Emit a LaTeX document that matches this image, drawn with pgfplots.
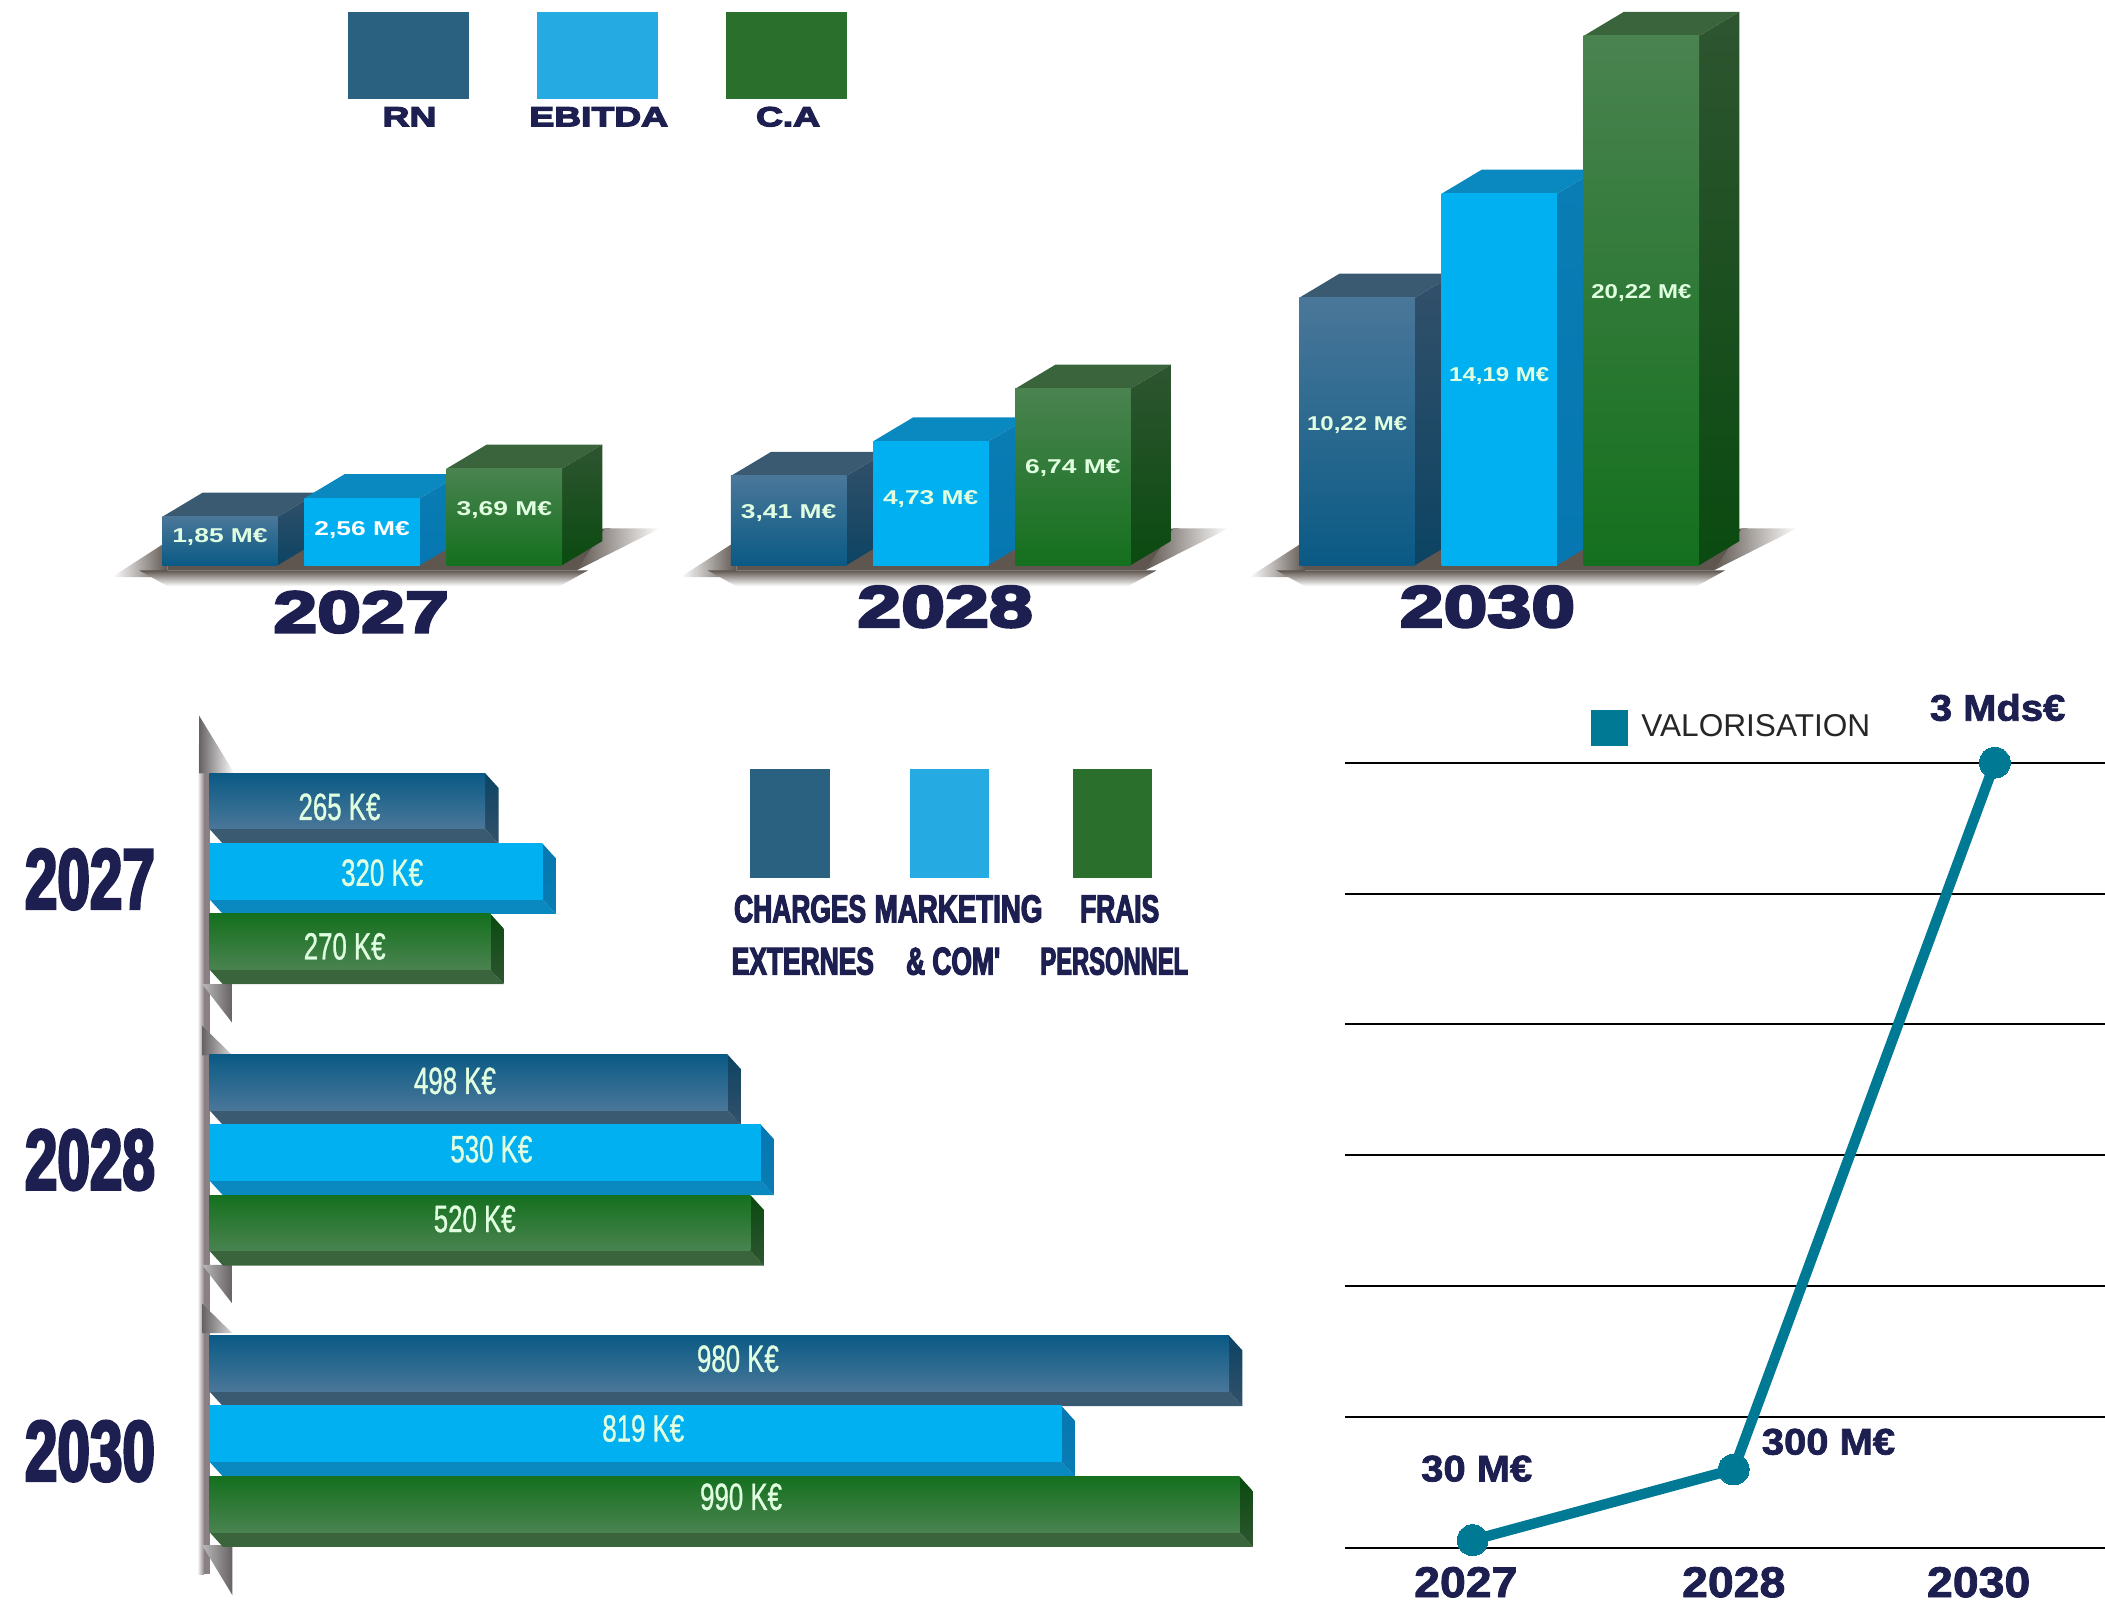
\documentclass[border=0pt]{standalone}
\usepackage{fontspec}
\usepackage{pgfplots}
\pgfplotsset{compat=1.18}
\setmainfont{Liberation Sans}
\newfontfamily\widefont[FakeStretch=1.36,FakeBold=5]{Liberation Sans}
\newfontfamily\narrowfont[FakeStretch=0.68,FakeBold=3]{Liberation Sans}
\newfontfamily\labelnarrow[FakeStretch=0.68,FakeBold=0.8]{Liberation Sans}
\newfontfamily\valfont[FakeStretch=1.2]{Liberation Sans}
\newfontfamily\linefont[FakeStretch=1.08,FakeBold=2]{Liberation Sans}

\definecolor{navy}{HTML}{1C1F4F}
\definecolor{teal}{HTML}{007A94}
\definecolor{shadow}{HTML}{5F5650}
\definecolor{wall}{HTML}{8A8084}
\definecolor{wedge}{HTML}{666264}
% swatches
\definecolor{swRN}{HTML}{2A6080}
\definecolor{swEB}{HTML}{25AAE2}
\definecolor{swCA}{HTML}{2A702C}
% faces of the bars
\definecolor{RNcap}{HTML}{3A5A72}
\definecolor{RNsidea}{HTML}{33506A}
\definecolor{RNsideb}{HTML}{0C4463}
\definecolor{RNtop}{HTML}{4A7799}
\definecolor{RNmid}{HTML}{1A6590}
\definecolor{RNbot}{HTML}{0A5A85}
\definecolor{EBcap}{HTML}{0A88C0}
\definecolor{EBsidea}{HTML}{0A7DB5}
\definecolor{EBsideb}{HTML}{0677B0}
\definecolor{EBtop}{HTML}{00B0F0}
\definecolor{EBmid}{HTML}{00B0F0}
\definecolor{EBbot}{HTML}{00B0F0}
\definecolor{CAcap}{HTML}{3A653C}
\definecolor{CAsidea}{HTML}{2E5530}
\definecolor{CAsideb}{HTML}{0A4A10}
\definecolor{CAtop}{HTML}{4A8350}
\definecolor{CAmid}{HTML}{17721F}
\definecolor{CAbot}{HTML}{14701E}

% column with top and side face: x, value, series, label y, label
\newcommand{\colbar}[5]{%
  \pgfmathsetmacro\xa{#1-0.1015}\pgfmathsetmacro\xb{#1+0.1015}%
  \pgfmathsetmacro\xc{#1+0.1723}\pgfmathsetmacro\xd{#1-0.0307}%
  \pgfmathsetmacro\vt{#2+0.92}%
  \addplot[draw=none,fill=#3cap] coordinates {(\xa,#2) (\xd,\vt) (\xc,\vt) (\xb,#2)} -- cycle;
  \addplot[draw=none,shade,top color=#3sidea,bottom color=#3sideb] coordinates {(\xb,#2) (\xc,\vt) (\xc,0.92) (\xb,0)} -- cycle;
  \addplot[ybar,bar shift=0pt,bar width=0.203,draw=none,shade,top color=#3top,middle color=#3mid,bottom color=#3bot] coordinates {(#1,#2)};
  \node[yshift=-1.2pt,text=white!88!green,font=\valfont\fontsize{10}{10}\selectfont\bfseries] at (axis cs:#1,#4) {#5};
}
% floor shadow under one group
\newcommand{\floorshadow}[1]{%
  \pgfmathsetmacro\sa{#1-0.44}\pgfmathsetmacro\sb{#1-0.342}\pgfmathsetmacro\sc{#1+0.427}%
  \pgfmathsetmacro\se{#1+0.524}\pgfmathsetmacro\sf{#1+0.377}\pgfmathsetmacro\sg{#1+0.437}%
  \pgfmathsetmacro\sh{#1-0.392}\pgfmathsetmacro\si{#1+0.397}\pgfmathsetmacro\sj{#1+0.347}%
  \addplot[draw=none,shade,left color=white,right color=shadow] coordinates {(\sa,-0.45) (\sb,0.92) (\sb,-0.45)} -- cycle;
  \addplot[draw=none,fill=shadow] coordinates {(\sb,-0.2) (\sb,0.92) (\sg,1.41) (\sf,-0.2)} -- cycle;
  \addplot[draw=none,shade,left color=shadow,right color=white] coordinates {(\sf,-0.2) (\sc,1.41) (\se,1.41)} -- cycle;
  \addplot[draw=none,shade,top color=shadow,bottom color=white] coordinates {(\sh,-0.2) (\si,-0.2) (\sj,-0.8) (\sb,-0.8)} -- cycle;
}
% horizontal bar with bottom and end face: y, value, series, label x, label y, label
\newcommand{\rowbar}[6]{%
  \pgfmathsetmacro\ya{#1+0.099}\pgfmathsetmacro\yb{#1-0.099}%
  \pgfmathsetmacro\yc{#1+0.0465}\pgfmathsetmacro\yd{#1-0.1515}%
  \pgfmathsetmacro\vr{#2+12.9}%
  \addplot[draw=none,fill=#3cap] coordinates {(0,\yb) (12.9,\yd) (\vr,\yd) (#2,\yb)} -- cycle;
  \addplot[draw=none,shade,top color=#3sideb,bottom color=#3sidea] coordinates {(#2,\ya) (\vr,\yc) (\vr,\yd) (#2,\yb)} -- cycle;
  \addplot[xbar,bar shift=0pt,bar width=0.198,draw=none,shade,top color=#3bot,middle color=#3mid,bottom color=#3top] coordinates {(#2,#1)};
  \node[text=white!88!green,font=\labelnarrow\fontsize{19}{19}\selectfont] at (axis cs:#4,#5) {#6};
}

\begin{document}
\begin{tikzpicture}
\path[use as bounding box] (0,0) rectangle (1052.5pt,801.5pt);

% top: RN, EBITDA, C.A (M euros)
\begin{axis}[
  at={(58*0.67125pt,714.5*0.67125pt)},anchor=south west,
  x=284.28pt,y=13.09pt,
  xmin=-0.5,xmax=2.9,ymin=-3,ymax=22,
  hide axis,clip=false]
\floorshadow{0}
\floorshadow{1}
\floorshadow{2}
\colbar{-0.25}{1.85}{RN}{1.18}{\scalebox{1.1}[1]{1,85 M€}}
\colbar{0}{2.56}{EB}{1.44}{\scalebox{1.1}[1]{\color{white}2,56 M€}}
\colbar{0.25}{3.69}{CA}{2.2}{\scalebox{1.1}[1]{3,69 M€}}
\colbar{0.75}{3.41}{RN}{2.1}{\scalebox{1.1}[1]{3,41 M€}}
\colbar{1}{4.73}{EB}{2.62}{\scalebox{1.1}[1]{4,73 M€}}
\colbar{1.25}{6.74}{CA}{3.79}{\scalebox{1.1}[1]{6,74 M€}}
\colbar{1.75}{10.22}{RN}{5.44}{10,22 M€}
\colbar{2}{14.19}{EB}{7.33}{14,19 M€}
\colbar{2.25}{20.22}{CA}{10.5}{20,22 M€}
\end{axis}

% bottom left: charges (k euros)
\begin{axis}[
  at={(147*0.67125pt,0.3*0.67125pt)},anchor=south west,
  x=0.5202pt,y=140.63pt,
  xmin=-11.6,xmax=1030,ymin=-0.6,ymax=2.6,
  hide axis,clip=false]
\addplot[draw=none,shade,left color=white,right color=wall] coordinates {(-11.6,2.45) (-5,2.45) (-5,-0.5) (-11.6,-0.5)} -- cycle;
\addplot[draw=none,fill=wall] coordinates {(-5.2,2.45) (0.5,2.45) (0.5,-0.5) (-5.2,-0.5)} -- cycle;
\addplot[draw=none,shade,left color=wedge,right color=white] coordinates {(-10,2.554) (24,2.348) (-10,2.348)} -- cycle;
\addplot[draw=none,shade,left color=wedge!45!white,right color=wedge] coordinates {(-7,1.599) (22,1.599) (22,1.461)} -- cycle;
\addplot[draw=none,shade,left color=wedge,right color=wedge!25!white] coordinates {(-7,1.451) (22,1.346) (-7,1.346)} -- cycle;
\addplot[draw=none,shade,left color=wedge!45!white,right color=wedge] coordinates {(-7,0.601) (22,0.601) (22,0.463)} -- cycle;
\addplot[draw=none,shade,left color=wedge,right color=wedge!25!white] coordinates {(-7,0.463) (22,0.358) (-7,0.358)} -- cycle;
\addplot[draw=none,shade,left color=wedge!45!white,right color=wedge] coordinates {(-7,-0.396) (22,-0.396) (22,-0.573)} -- cycle;
\rowbar{2.25}{265}{RN}{125}{2.229}{265 K€}
\rowbar{2}{320}{EB}{166}{1.995}{320 K€}
\rowbar{1.75}{270}{CA}{130}{1.733}{270 K€}
\rowbar{1.25}{498}{RN}{236}{1.255}{498 K€}
\rowbar{1}{530}{EB}{271}{1.012}{530 K€}
\rowbar{0.75}{520}{CA}{255}{0.764}{520 K€}
\rowbar{0.25}{980}{RN}{508}{0.267}{980 K€}
\rowbar{0}{819}{EB}{417}{0.019}{819 K€}
\rowbar{-0.25}{990}{CA}{511}{-0.224}{990 K€}
\end{axis}

% bottom right: valorisation (M euros)
\begin{axis}[
  at={(1002*0.67125pt,41*0.67125pt)},anchor=south west,
  x=130.56pt,y=0.13089pt,
  xmin=-0.488,xmax=2.4216,ymin=0,ymax=3000,
  clip=false,
  axis line style={draw=none},
  tick style={draw=none},
  ymajorgrids,grid style={black,line width=1pt},
  ytick={0,500,1000,1500,2000,2500,3000},yticklabels={},
  xtick={-0.026,1,1.938},xticklabels={2027,2028,2030},
  xticklabel style={text=navy,font=\linefont\fontsize{21.5}{21.5}\selectfont\bfseries,yshift=-6pt},
  legend style={at={(0.3235,1.044)},anchor=west,draw=none,fill=none,inner sep=0pt,
    font=\fontsize{15.8}{15.8}\selectfont,text=black!85},
  legend image code/.code={\path[draw=none] (0pt,0pt) -- (20.4pt,0pt);\fill[teal,draw=none] (-2.6pt,-9.6pt) rectangle (15.5pt,8.5pt);}]
\addplot[teal,line width=5.2pt,mark=*,mark size=7.7pt,mark options={fill=teal,draw=none,line width=0pt}] coordinates {(0,30) (1,300) (2,3000)};
\addlegendentry{VALORISATION}
\end{axis}

% texts and swatches, page coordinates measured from the top left
\begin{scope}[shift={(0,801.5pt)},x=0.67125pt,y=-0.67125pt]
\fill[swRN] (259,9) rectangle (349,74);
\fill[swEB] (400,9) rectangle (490,74);
\fill[swCA] (541,9) rectangle (631,74);
\begin{scope}[every node/.style={text=navy,font=\widefont\fontsize{13.7}{13.7}\selectfont\bfseries}]
\node at (305,87) {RN};
\node at (446,87) {EBITDA};
\node at (587,87) {C.A};
\end{scope}
\begin{scope}[every node/.style={text=navy,font=\widefont\fontsize{29}{29}\selectfont\bfseries}]
\node at (269,456) {2027};
\node at (704,452) {2028};
\node at (1108,452) {2030};
\end{scope}
\begin{scope}[every node/.style={text=navy,font=\narrowfont\fontsize{43}{43}\selectfont\bfseries}]
\node at (67,655) {2027};
\node at (67,864) {2028};
\node at (67,1081) {2030};
\end{scope}
\fill[swRN] (559,573) rectangle (618,654);
\fill[swEB] (678,573) rectangle (737,654);
\fill[swCA] (799,573) rectangle (858,654);
\begin{scope}[every node/.style={text=navy,font=\narrowfont\fontsize{19.4}{19.4}\selectfont\bfseries}]
\node at (596,677) {CHARGES};
\node at (714,677) {\scalebox{1.05}[1]{MARKETING}};
\node at (834,677) {FRAIS};
\node at (598,716) {EXTERNES};
\node at (710,716) {\& COM'};
\node at (830,716) {\scalebox{0.9}[1]{PERSONNEL}};
\end{scope}
\begin{scope}[every node/.style={text=navy,font=\linefont\fontsize{18.5}{18.5}\selectfont\bfseries}]
\node at (1488,527) {3 Mds€};
\node at (1362,1074) {300 M€};
\node at (1100,1094) {30 M€};
\end{scope}
\end{scope}
\end{tikzpicture}
\end{document}
